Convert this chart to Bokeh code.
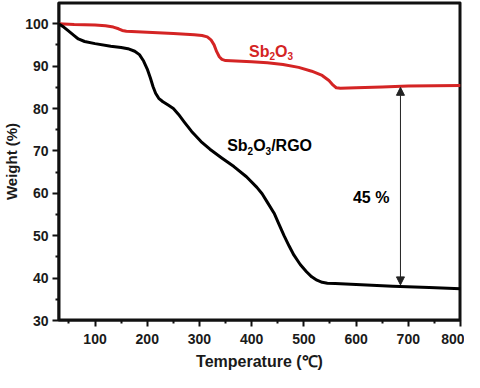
from bokeh.plotting import figure
from bokeh.models import Range1d, Arrow, NormalHead, FixedTicker
from bokeh.core.properties import value
from bokeh.embed import file_html
from bokeh.resources import INLINE

# Sb2O3 (red)
sb_temp = [30, 60, 100, 120, 135, 145, 152, 160, 200, 250, 290, 305, 315, 322, 328, 333, 338,
           343, 350, 370, 400, 430, 460, 490, 515, 535, 548, 556, 562, 570, 600, 650, 700, 800]
sb_weight = [100, 99.8, 99.7, 99.5, 99.2, 98.8, 98.4, 98.2, 98.0, 97.7, 97.4, 97.2, 96.9, 96.2,
             95.0, 93.4, 92.2, 91.6, 91.3, 91.2, 91.0, 90.8, 90.4, 89.7, 88.8, 87.8, 86.6, 85.5,
             84.9, 84.8, 84.9, 85.1, 85.3, 85.4]

# Sb2O3/RGO (black)
rgo_temp = [30, 40, 49, 60, 68, 80, 100, 130, 150, 163, 176, 185, 193, 200, 206, 211, 216, 222,
            230, 240, 250, 260, 271, 285, 303, 320, 342, 366, 390, 410, 420, 429, 443, 452, 462,
            472, 481, 493, 505, 515, 525, 535, 545, 560, 600, 670, 740, 800]
rgo_weight = [100, 99.2, 98.3, 97.2, 96.4, 95.8, 95.3, 94.7, 94.4, 94.1, 93.5, 92.7, 91.2, 89.3,
              87.2, 85.2, 83.6, 82.4, 81.6, 80.8, 80.0, 78.6, 76.8, 74.6, 72.2, 70.4, 68.4, 66.3,
              63.9, 61.4, 59.9, 58.1, 55.3, 52.8, 50.0, 47.5, 45.4, 43.2, 41.5, 40.3, 39.5, 39.0,
              38.8, 38.7, 38.5, 38.1, 37.8, 37.5]

x_ticks = [100, 200, 300, 400, 500, 600, 700, 800]
x_minor = [50, 150, 250, 350, 450, 550, 650, 750]
y_ticks = [30, 40, 50, 60, 70, 80, 90, 100]
y_minor = [35, 45, 55, 65, 75, 85, 95]

arrow_temp = 685
arrow_top = 85.3
arrow_bottom = 38.1
diff_label = "45 %"

RED = "#d42424"
FONT = "Liberation Sans"
INK = "#111111"

X0, X1, Y0, Y1 = 30, 800, 30, 105

p = figure(width=464, height=372, output_backend="svg", toolbar_location=None,
           x_range=Range1d(X0, X1), y_range=Range1d(Y0, Y1),
           min_border_left=55, min_border_right=4, min_border_top=2, min_border_bottom=43)
p.grid.visible = False
p.outline_line_color = INK
p.outline_line_width = 2

p.xaxis.ticker = FixedTicker(ticks=x_ticks, minor_ticks=x_minor)
p.yaxis.ticker = FixedTicker(ticks=y_ticks, minor_ticks=y_minor)

p.axis.axis_line_color = INK
p.axis.axis_line_width = 2
p.axis.major_tick_line_color = INK
p.axis.minor_tick_line_color = INK
p.axis.major_tick_line_width = 2
p.axis.minor_tick_line_width = 2
p.axis.major_tick_out = 6
p.axis.major_tick_in = 0
p.axis.minor_tick_out = 3
p.axis.minor_tick_in = 0
p.axis.major_label_text_font = FONT
p.axis.major_label_text_font_style = "bold"
p.axis.major_label_text_font_size = "14px"
p.axis.major_label_text_color = "#1a1a1a"
p.axis.axis_label_text_font = FONT
p.axis.axis_label_text_font_style = "bold"
p.axis.axis_label_text_color = "#1a1a1a"

p.xaxis.axis_label = "Temperature (℃)"
p.xaxis.axis_label_text_font_size = "16px"
p.xaxis.major_label_standoff = 7
p.xaxis.axis_label_standoff = 6
p.yaxis.axis_label = "Weight (%)"
p.yaxis.axis_label_text_font_size = "15px"
p.yaxis.major_label_standoff = 4
p.yaxis.axis_label_standoff = 2

# frame drawn as a glyph along the range limits (inner half stays visible)
p.line([X0, X1, X1, X0, X0], [Y0, Y0, Y1, Y1, Y0], line_color=INK, line_width=4,
       line_join="miter")

p.line(sb_temp, sb_weight, line_color=RED, line_width=3, line_join="round")
p.line(rgo_temp, rgo_weight, line_color="black", line_width=3, line_join="round")

p.add_layout(Arrow(x_start=arrow_temp, y_start=arrow_bottom + 0.3, x_end=arrow_temp, y_end=arrow_top - 0.3,
                   line_width=1, line_color="#222222",
                   start=NormalHead(size=8, fill_color="#222222", line_color="#222222", line_width=1),
                   end=NormalHead(size=8, fill_color="#222222", line_color="#222222", line_width=1)))

def formula(x, y, parts, color):
    # parts: list of (text, pixel_offset, is_subscript)
    for txt, off, sub in parts:
        p.text(x=[x], y=[y], text=[txt], x_offset=off, y_offset=5 if sub else 0,
               text_font=value(FONT), text_font_style="bold",
               text_font_size="10px" if sub else "16px",
               text_color=color, text_baseline="alphabetic", text_align="left")

formula(395, 93.5, [("Sb", 0, False), ("2", 20.4, True), ("O", 26, False), ("3", 38.4, True)], RED)
formula(353, 71.2, [("Sb", 0, False), ("2", 20.4, True), ("O", 26, False), ("3", 38.4, True),
                    ("/RGO", 44, False)], "black")
p.text(x=[594], y=[59.1], text=[diff_label], text_font=value(FONT), text_font_style="bold",
       text_font_size="16px", text_color="black", text_baseline="alphabetic")

open("out.html", "w").write(file_html(p, INLINE))
